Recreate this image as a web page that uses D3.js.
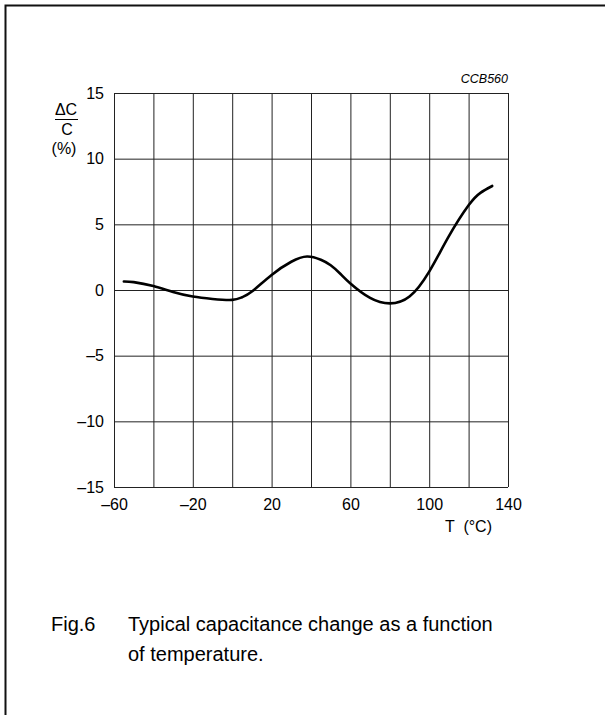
<!DOCTYPE html>
<html>
<head>
<meta charset="utf-8">
<script src="https://cdn.jsdelivr.net/npm/d3@7"></script>
<style>
  body { margin: 0; background: #fff; }
  text { font-family: "Liberation Sans", Arial, Helvetica, sans-serif; fill: #000; }
</style>
</head>
<body>
<svg id="chart" width="605" height="715"></svg>
<script>
// temperature (°C) and capacitance change (%)
const temps = [-55, -50, -40, -30, -20, -10, 0, 5, 10, 20, 30, 38, 45, 50, 55, 60, 70, 80, 90, 100, 110, 120, 126, 132];
const deltaC = [0.65, 0.6, 0.3, -0.15, -0.5, -0.68, -0.75, -0.55, -0.12, 1.15, 2.15, 2.55, 2.3, 1.88, 1.22, 0.5, -0.6, -1.02, -0.5, 1.4, 4.1, 6.45, 7.4, 7.92];

const xGrid = d3.range(-60, 141, 20);
const xTickLabels = [-60, -20, 20, 60, 100, 140];
const yTicks = [-15, -10, -5, 0, 5, 10, 15];

const width = 605;
const height = 715;
const plot = { left: 114, top: 93, right: 508, bottom: 487 };

const fmt = (d) => (d < 0 ? '\u2013' + Math.abs(d) : String(d));

const svg = d3.select('#chart');

svg.append('rect')
  .attr('width', width)
  .attr('height', height)
  .attr('fill', '#fff');

// outer figure frame (right and bottom edges run off the page)
svg.append('rect')
  .attr('x', 5.5)
  .attr('y', 5.5)
  .attr('width', 700)
  .attr('height', 800)
  .attr('fill', 'none')
  .attr('stroke', '#111')
  .attr('stroke-width', 2);

const x = d3.scaleLinear().domain([-60, 140]).range([plot.left, plot.right]);
const y = d3.scaleLinear().domain([-15, 15]).range([plot.bottom, plot.top]);

// grid
const gridX = svg.append('g')
  .attr('transform', `translate(0, ${plot.bottom})`)
  .call(d3.axisBottom(x).tickValues(xGrid).tickSize(-(plot.bottom - plot.top)).tickFormat(''));

const gridY = svg.append('g')
  .attr('transform', `translate(${plot.left}, 0)`)
  .call(d3.axisLeft(y).tickValues(yTicks).tickSize(-(plot.right - plot.left)).tickFormat(''));

[gridX, gridY].forEach((g) => {
  g.select('.domain').remove();
  g.selectAll('line').attr('stroke', '#222').attr('stroke-width', 1);
});

// tick labels
const labelsX = svg.append('g')
  .attr('transform', `translate(0, ${plot.bottom})`)
  .call(d3.axisBottom(x).tickValues(xTickLabels).tickSize(0).tickPadding(0).tickFormat(fmt));

labelsX.selectAll('text')
  .attr('y', 23)
  .attr('dy', null)
  .style('font-size', '16px');

const labelsY = svg.append('g')
  .attr('transform', `translate(${plot.left}, 0)`)
  .call(d3.axisLeft(y).tickValues(yTicks).tickSize(0).tickPadding(10).tickFormat(fmt));

labelsY.selectAll('text')
  .style('font-size', '16px');

[labelsX, labelsY].forEach((g) => {
  g.select('.domain').remove();
  g.attr('font-family', null).attr('font-size', null);
});

// curve
const line = d3.line()
  .x((d) => x(d[0]))
  .y((d) => y(d[1]))
  .curve(d3.curveNatural);

svg.append('path')
  .datum(d3.zip(temps, deltaC))
  .attr('d', line)
  .attr('fill', 'none')
  .attr('stroke', '#000')
  .attr('stroke-width', 2.6)
  .attr('stroke-linecap', 'round');

// y axis label as a fraction
const yLab = svg.append('g').attr('text-anchor', 'middle').style('font-size', '16px');
yLab.append('text').attr('x', 66).attr('y', 115).text('\u0394C');
yLab.append('line')
  .attr('x1', 55).attr('x2', 78)
  .attr('y1', 119.5).attr('y2', 119.5)
  .attr('stroke', '#000').attr('stroke-width', 1);
yLab.append('text').attr('x', 67).attr('y', 135).text('C');
yLab.append('text').attr('x', 64).attr('y', 154).text('(%)');

// x axis label
svg.append('text')
  .attr('x', 492)
  .attr('y', 532)
  .attr('text-anchor', 'end')
  .style('font-size', '16px')
  .style('white-space', 'pre')
  .text('T  (\u00b0C)');

// figure code
svg.append('text')
  .attr('x', 508)
  .attr('y', 83)
  .attr('text-anchor', 'end')
  .style('font-size', '12.5px')
  .style('font-style', 'italic')
  .text('CCB560');

// caption
const cap = svg.append('g').style('font-size', '20px');
cap.append('text').attr('x', 51).attr('y', 631).text('Fig.6');
cap.append('text').attr('x', 128).attr('y', 631).text('Typical capacitance change as a function');
cap.append('text').attr('x', 128).attr('y', 661).text('of temperature.');
</script>
</body>
</html>
